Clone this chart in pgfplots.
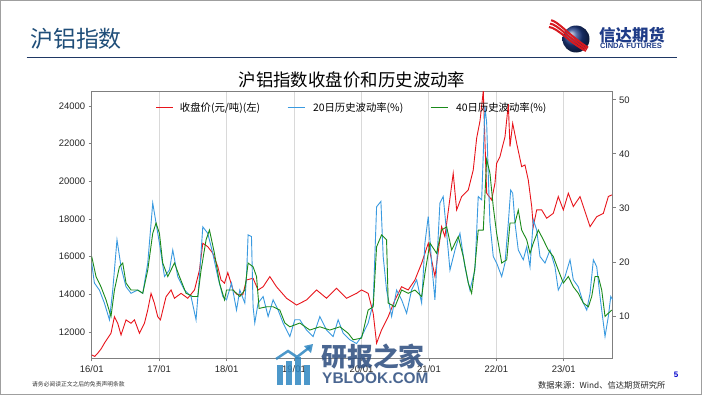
\documentclass[border=0pt]{standalone}
\usepackage{pgfplots}
\pgfplotsset{compat=1.18}
\usetikzlibrary{calc}
\usepackage{fontspec}
\setmainfont{Liberation Sans}
\newfontfamily\cjk{Noto Sans CJK SC}
\definecolor{pricered}{HTML}{E8141B}
\definecolor{volblue}{HTML}{3A9AE0}
\definecolor{volgreen}{HTML}{1A8A1A}
\definecolor{titleblue}{HTML}{1F4E79}
\definecolor{linenavy}{HTML}{1F3864}
\definecolor{axgray}{HTML}{7F7F7F}
\definecolor{gridgray}{HTML}{D9D9D9}
\definecolor{logoblue}{HTML}{1F3C88}
\definecolor{logored}{HTML}{D7191F}
\definecolor{wmblue}{HTML}{2B4C7E}
\definecolor{wmlight}{HTML}{2E86C1}

\pgfplotstableread{
x y
2016.000 10780
2016.045 10700
2016.089 10870
2016.140 11100
2016.188 11400
2016.286 11930
2016.337 12810
2016.386 12460
2016.435 11840
2016.509 12640
2016.583 12460
2016.634 12640
2016.708 11930
2016.782 12460
2016.831 13170
2016.880 14050
2016.930 13520
2016.979 12810
2017.019 12640
2017.102 13870
2017.177 14230
2017.227 13790
2017.325 14050
2017.424 13790
2017.524 14230
2017.598 15290
2017.647 16710
2017.721 16530
2017.795 16180
2017.869 15470
2017.918 14760
2017.969 14590
2018.018 15150
2018.096 14230
2018.151 14000
2018.240 13970
2018.295 14760
2018.393 14850
2018.467 14230
2018.542 14400
2018.641 14940
2018.740 14400
2018.889 13790
2019.037 13430
2019.186 13700
2019.334 14230
2019.482 13790
2019.631 14320
2019.779 13790
2019.927 14050
2020.001 14230
2020.099 14050
2020.174 12990
2020.224 11400
2020.298 12110
2020.396 12810
2020.496 13700
2020.595 14400
2020.693 14230
2020.792 14760
2020.892 15650
2020.990 16710
2021.089 14940
2021.188 17590
2021.237 17060
2021.360 20420
2021.411 18480
2021.485 19190
2021.583 19540
2021.657 20600
2021.708 22300
2021.757 23200
2021.806 24800
2021.856 19370
2021.930 19010
2021.979 19900
2022.004 20960
2022.053 21310
2022.128 22370
2022.177 24100
2022.202 21840
2022.242 23080
2022.301 22020
2022.375 20780
2022.424 20870
2022.473 20070
2022.524 18660
2022.547 17590
2022.598 18480
2022.672 18480
2022.746 18040
2022.844 18300
2022.918 19190
2022.993 18480
2023.067 19370
2023.141 18660
2023.240 19190
2023.340 18120
2023.389 17590
2023.488 18120
2023.586 18300
2023.660 19190
2023.711 19280
}\pricetable

\pgfplotstableread{
x y
2016.000 19.8
2016.040 16.1
2016.114 14.8
2016.188 12.4
2016.263 9.3
2016.312 14.8
2016.375 24.1
2016.435 19.1
2016.509 15.4
2016.583 14.2
2016.682 14.8
2016.757 14.2
2016.831 19.8
2016.905 30.9
2016.954 27.2
2017.004 23.5
2017.079 17.3
2017.153 18.5
2017.202 22.2
2017.276 17.3
2017.375 14.8
2017.473 13.6
2017.547 9.3
2017.598 17.3
2017.647 26.5
2017.721 25.3
2017.795 21.6
2017.869 17.3
2017.944 13.6
2017.999 13.0
2018.073 16.1
2018.147 11.1
2018.196 14.8
2018.270 12.4
2018.295 17.3
2018.319 25.0
2018.369 24.7
2018.393 11.7
2018.418 8.7
2018.467 12.4
2018.542 13.6
2018.616 9.9
2018.690 13.0
2018.764 11.1
2018.838 8.7
2018.938 6.2
2019.012 9.3
2019.086 9.3
2019.185 7.4
2019.283 6.2
2019.383 9.9
2019.482 7.4
2019.580 6.2
2019.654 9.3
2019.729 6.8
2019.828 5.6
2019.927 4.9
2020.001 6.2
2020.099 8.7
2020.174 12.4
2020.224 30.2
2020.288 31.2
2020.322 21.0
2020.372 14.8
2020.447 9.9
2020.521 14.8
2020.595 13.0
2020.669 10.5
2020.743 14.8
2020.818 16.7
2020.892 12.4
2020.941 23.5
2020.990 28.4
2021.040 19.8
2021.089 13.0
2021.163 30.9
2021.212 32.1
2021.263 25.3
2021.312 18.5
2021.386 22.2
2021.460 25.3
2021.534 19.1
2021.608 14.8
2021.682 18.5
2021.731 32.1
2021.782 31.5
2021.831 48.8
2021.856 45.7
2021.883 35.0
2021.905 27.2
2021.954 21.0
2022.004 19.8
2022.079 17.3
2022.128 19.8
2022.177 27.2
2022.212 33.3
2022.242 32.7
2022.276 27.2
2022.325 22.2
2022.399 20.4
2022.450 22.8
2022.499 19.1
2022.548 27.8
2022.598 25.9
2022.647 21.0
2022.721 19.8
2022.795 22.2
2022.869 19.1
2022.918 14.8
2022.969 16.1
2023.018 17.3
2023.092 20.4
2023.141 16.7
2023.215 15.4
2023.289 12.4
2023.340 11.1
2023.389 14.2
2023.438 20.4
2023.488 19.1
2023.537 13.6
2023.586 8.7
2023.611 6.2
2023.660 9.9
2023.696 13.6
2023.725 13.0
}\bluetable

\pgfplotstableread{
x y
2016.000 21.0
2016.064 17.3
2016.138 15.4
2016.212 13.0
2016.286 9.9
2016.337 14.8
2016.411 19.1
2016.460 19.8
2016.509 16.1
2016.583 14.8
2016.682 14.8
2016.757 14.2
2016.831 18.5
2016.905 25.3
2016.954 27.2
2017.004 25.3
2017.053 19.8
2017.128 17.3
2017.227 19.8
2017.301 17.3
2017.399 14.2
2017.499 13.6
2017.573 13.6
2017.622 18.5
2017.696 24.1
2017.746 25.9
2017.820 21.6
2017.895 16.1
2017.969 13.0
2017.999 14.8
2018.096 14.8
2018.196 13.6
2018.270 14.8
2018.319 19.8
2018.393 19.1
2018.444 17.3
2018.482 11.4
2018.592 11.7
2018.690 11.7
2018.789 11.1
2018.864 8.7
2018.938 8.0
2019.086 8.7
2019.234 7.4
2019.383 8.0
2019.531 7.4
2019.680 8.0
2019.803 6.8
2019.877 5.6
2020.001 5.9
2020.099 11.1
2020.174 11.7
2020.224 22.8
2020.298 25.0
2020.372 24.1
2020.396 12.4
2020.496 11.7
2020.595 14.8
2020.693 14.2
2020.792 14.8
2020.892 13.6
2020.941 17.9
2021.015 23.5
2021.114 21.6
2021.188 25.9
2021.263 26.5
2021.337 22.2
2021.435 24.7
2021.509 21.0
2021.583 16.1
2021.633 14.2
2021.682 19.1
2021.731 25.9
2021.806 25.9
2021.856 39.0
2021.905 36.4
2021.954 30.2
2022.004 25.3
2022.079 19.8
2022.153 20.4
2022.202 27.2
2022.276 27.2
2022.325 29.6
2022.375 25.9
2022.450 24.1
2022.499 21.6
2022.548 23.5
2022.622 25.9
2022.696 24.1
2022.770 22.2
2022.844 21.0
2022.918 18.5
2022.993 16.1
2023.067 17.3
2023.141 15.4
2023.215 14.2
2023.289 12.4
2023.364 11.7
2023.414 13.6
2023.463 17.3
2023.512 17.3
2023.562 14.8
2023.611 9.9
2023.660 10.5
2023.711 11.1
}\greentable

\begin{document}
\begin{tikzpicture}[x=1bp,y=1bp]
\useasboundingbox (0,0) rectangle (702,395);
\fill[white] (0,0) rectangle (702,395);
\draw[gray!75, line width=1.2bp] (0.6,0.6) rectangle (701.4,394.4);

% header
\node[anchor=west, text=titleblue, font=\cjk\fontsize{23}{23}\selectfont, inner sep=0pt] at (30,356) {沪铝指数};
\draw[linenavy, line width=1.8bp] (26.5,337.5) -- (677,337.5);

% logo
\begin{scope}
\shade[ball color=logoblue] (576,356) circle (13.5);
\foreach \d in {0,3.4,6.8} {
  \draw[logored, line width=2bp] ($(549,368)+(\d*0.3,\d)$) .. controls ($(558,367)+(0,\d)$) and ($(570,352)+(0,\d)$) .. ($(586,344)+(\d*0.3,\d*0.5)$);
}
\end{scope}
\node[anchor=west, text=logoblue, font=\cjk\bfseries\fontsize{16.5}{16.5}\selectfont, inner sep=0pt] at (599,360) {信达期货};
\node[anchor=west, text=logoblue, font=\bfseries\fontsize{7.6}{8}\selectfont, inner sep=0pt] at (600,349) {CINDA FUTURES};

% chart title
\node[font=\cjk\fontsize{17.5}{18}\selectfont, inner sep=0pt] at (352,315.5) {沪铝指数收盘价和历史波动率};

\begin{axis}[
  at={(91.7bp,36.7bp)}, anchor=south west,
  scale only axis, width=521bp, height=266.6bp,
  xmin=2016, xmax=2023.725,
  ymin=10600, ymax=24760,
  xtick={2016,2017,2018,2019,2020,2021,2022,2023},
  xticklabels={16/01,17/01,18/01,19/01,20/01,21/01,22/01,23/01},
  ytick={12000,14000,16000,18000,20000,22000,24000},
  scaled y ticks=false,
  /pgf/number format/1000 sep={},
  /pgf/number format/assume math mode=true,
  xtick pos=bottom, ytick pos=left,
  tick align=outside,
  major tick length=3bp,
  tick style={axgray, line width=0.8bp},
  axis line style={axgray, line width=1bp},
  xmajorgrids, grid style={gridgray, line width=1bp},
  ticklabel style={font=\fontsize{9.5}{10}\selectfont, text=black!85},
  xticklabel style={yshift=-1bp},
]
\addplot[pricered, line width=0.9bp] table[x=x,y=y] {\pricetable};
\end{axis}

\begin{axis}[
  at={(91.7bp,36.7bp)}, anchor=south west,
  scale only axis, width=521bp, height=266.6bp,
  xmin=2016, xmax=2023.725,
  ymin=2.17, ymax=51.5,
  hide x axis,
  axis y line*=right,
  ytick={10,20,30,40,50},
  /pgf/number format/assume math mode=true,
  tick align=outside,
  major tick length=3bp,
  tick style={axgray, line width=0.8bp},
  axis line style={axgray, line width=1bp},
  ticklabel style={font=\fontsize{9.5}{10}\selectfont, text=black!85},
  legend columns=3,
  legend style={at={(0.5,0.976)}, anchor=north, draw=none, fill=none,
    font=\cjk\fontsize{10.4}{12}\selectfont,
    /tikz/every even column/.append style={column sep=25bp}},
]
\addplot[color=volblue, line width=0.9bp, forget plot] table[x=x,y=y] {\bluetable};
\addplot[color=volgreen, line width=0.9bp, forget plot] table[x=x,y=y] {\greentable};
\addlegendimage{legend image code/.code={\draw[draw=pricered, line width=0.9bp] (0bp,0bp) -- (17bp,0bp);}}
\addlegendentry{\hspace{4bp}收盘价(元/吨)(左)\hspace{5bp}}
\addlegendimage{legend image code/.code={\draw[draw=volblue, line width=0.9bp] (0bp,0bp) -- (17bp,0bp);}}
\addlegendentry{\hspace{6bp}20日历史波动率(\%)}
\addlegendimage{legend image code/.code={\draw[draw=volgreen, line width=0.9bp] (0bp,0bp) -- (17bp,0bp);}}
\addlegendentry{\hspace{6bp}40日历史波动率(\%)}
\end{axis}

% watermark
\begin{scope}[opacity=0.85]
\fill[wmlight] (277,10) rectangle (283,30);
\fill[wmlight] (286,10) rectangle (292,34);
\fill[wmlight] (295,10) rectangle (301,38);
\fill[wmlight] (304,10) rectangle (310,30);
\draw[wmlight, line width=2.5bp] (276,36) -- (288,44) -- (297,38) -- (310,48);
\fill[wmlight] (313,51) -- (304,49) -- (311,42) -- cycle;
\node[anchor=west, text=wmblue, font=\cjk\bfseries\fontsize{26}{26}\selectfont, inner sep=0pt] at (321,38) {研报之家};
\node[anchor=west, text=wmblue, font=\bfseries\fontsize{15.5}{16}\selectfont, inner sep=0pt] at (322,17) {YBLOOK.COM};
\end{scope}

% footer
\node[anchor=west, font=\cjk\fontsize{5.8}{6}\selectfont, inner sep=0pt, text=black!80] at (32,10.5) {请务必阅读正文之后的免责声明条款};
\node[anchor=west, font=\cjk\fontsize{8.3}{9}\selectfont, inner sep=0pt, text=black!85] at (538,10) {数据来源：Wind、信达期货研究所};
\node[font=\bfseries\fontsize{8}{9}\selectfont, text=blue!80!black, inner sep=0pt] at (676,20) {5};
\end{tikzpicture}
\end{document}
